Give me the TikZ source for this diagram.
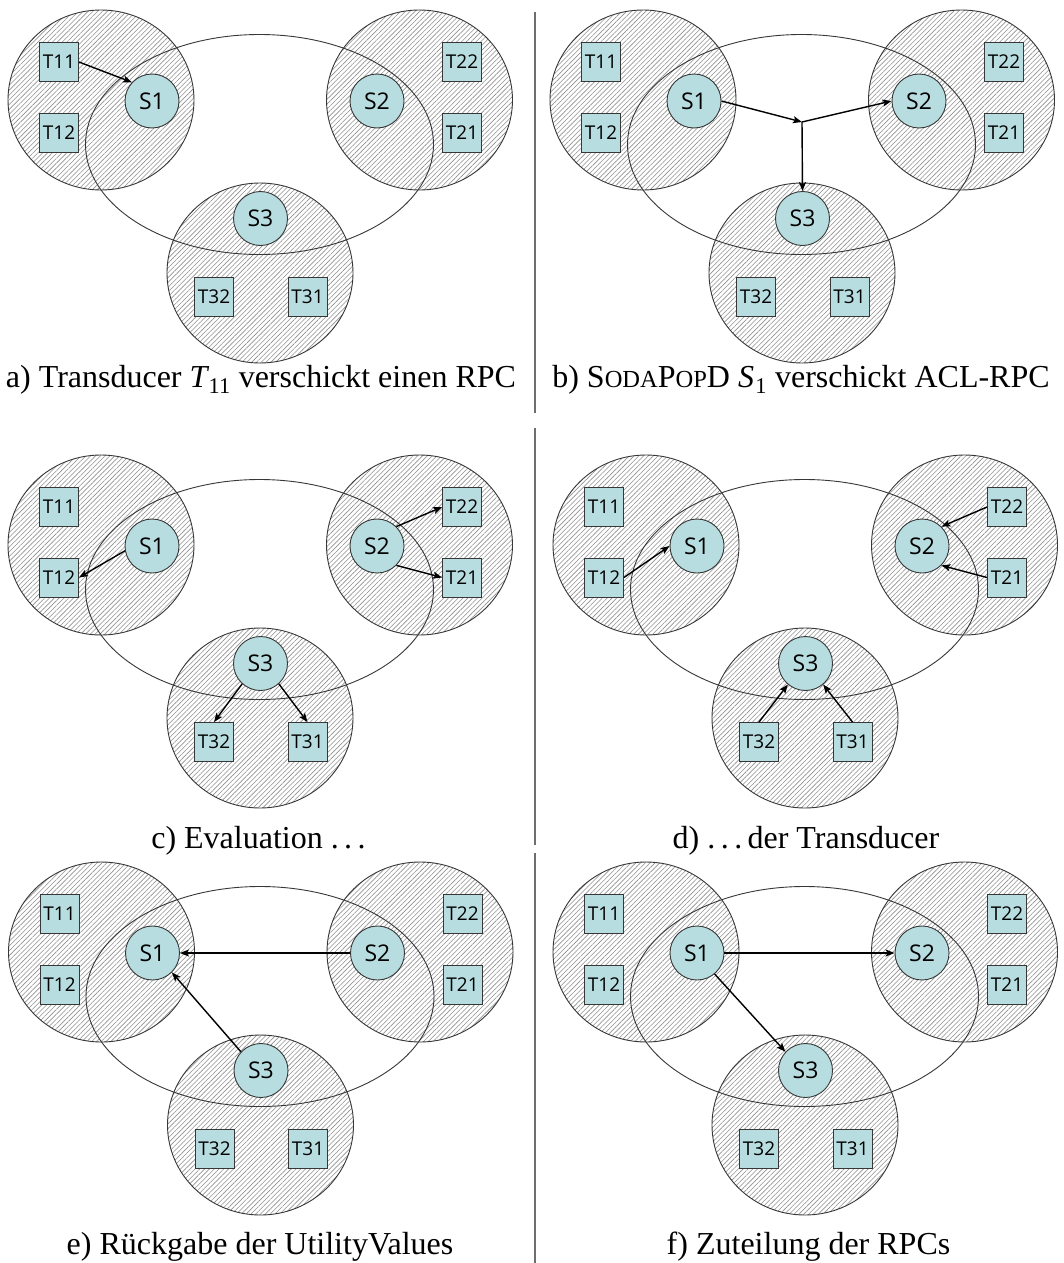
\documentclass[tikz,border=0pt]{standalone}
\usepackage{fontspec}
\setmainfont{Liberation Serif}
\newfontfamily\labelfont{Open Sans}
\usetikzlibrary{patterns.meta,arrows.meta}

\definecolor{nodefill}{RGB}{183,221,224}
\definecolor{edgegray}{RGB}{55,55,55}
\definecolor{hatchgray}{RGB}{145,145,145}
\definecolor{rulegray}{RGB}{110,110,110}

\tikzset{
  cluster/.style={draw=edgegray, line width=0.9pt,
    pattern={Lines[angle=45,distance=3.4pt,line width=0.6pt]}, pattern color=hatchgray},
  ring/.style={draw=edgegray, line width=0.9pt},
  server/.style={circle, draw=edgegray, line width=0.9pt, fill=nodefill,
    minimum size=54pt, inner sep=0pt, font=\labelfont\fontsize{23}{23}\selectfont},
  transducer/.style={rectangle, draw=edgegray, line width=0.9pt, fill=nodefill,
    minimum size=39pt, inner sep=0pt, font=\labelfont\fontsize{19}{19}\selectfont},
  msg/.style={draw=black, line width=1.4pt, -{Stealth[length=9pt,width=7pt,inset=2pt]}},
  caption/.style={font=\fontsize{32}{32}\selectfont, inner sep=0pt, anchor=base},
  divider/.style={draw=rulegray, line width=1.1pt},
}

% One panel: three hatched clusters, the ring of servers, servers S1-S3 and
% their transducers.  #1 = name prefix, (#2,#3) = centre of S1.
\newcommand\clusterpanel[3]{%
  \begin{scope}[shift={(#2,#3)}, name prefix=#1-]
    \path[cluster] (-51,-1) ellipse [x radius=93, y radius=90];
    \path[cluster] (267.5,-1) ellipse [x radius=93, y radius=90];
    \path[cluster] (108,172) ellipse [x radius=93, y radius=90];
    \path[ring] (107.5,43.5) ellipse [x radius=174, y radius=110];
    \node[server] (S1) at (0,0) {S1};
    \node[server] (S2) at (225,0) {S2};
    \node[server] (S3) at (108.5,117.5) {S3};
    \node[transducer] (T11) at (-93,-39) {T11};
    \node[transducer] (T12) at (-93,31.5) {T12};
    \node[transducer] (T22) at (310,-39) {T22};
    \node[transducer] (T21) at (310,31.5) {T21};
    \node[transducer] (T32) at (62,196) {T32};
    \node[transducer] (T31) at (155.5,196) {T31};
  \end{scope}}

\newcommand\dotsep{.\kern0.17em.\kern0.17em.}
\newcommand\indexed[2]{{\itshape #1}\kern0.04em\textsubscript{#2}}

\begin{document}
\begin{tikzpicture}[x=1pt, y=-1pt]
  \useasboundingbox (0,0) rectangle (1064,1263);
  \fill[white] (0,0) rectangle (1064,1263);

  % separators between the two columns
  \coordinate (r1a) at (535,12);   \coordinate (r1b) at (535,413);
  \coordinate (r2a) at (535,428);  \coordinate (r2b) at (535,845);
  \coordinate (r3a) at (535,853);  \coordinate (r3b) at (535,1263);
  \draw[divider] (r1a) -- (r1b);
  \draw[divider] (r2a) -- (r2b);
  \draw[divider] (r3a) -- (r3b);

  \clusterpanel{a}{152}{101}
  \clusterpanel{b}{694}{101}
  \clusterpanel{c}{152}{546}
  \clusterpanel{d}{697}{546}
  \clusterpanel{e}{152.5}{953}
  \clusterpanel{f}{697}{953}

  % a) transducer T11 sends an RPC
  \draw[msg] (a-T11.east) -- (a-S1.137);

  % b) S1 forwards the ACL-RPC to S2 and S3
  \coordinate (b-J) at (802,122);
  \draw[msg] (b-S1.east) -- (b-J);
  \draw[msg] (b-J) -- (b-S2.west);
  \draw[msg] (b-J) -- (b-S3.north);

  % c) evaluation requests to the transducers
  \draw[msg] (c-S1.190) -- (c-T12.east);
  \draw[msg] (c-S2.45) -- (c-T22.west);
  \draw[msg] (c-S2.-45) -- (c-T21.west);
  \draw[msg] (c-S3.228) -- (c-T32.north);
  \draw[msg] (c-S3.-48) -- (c-T31.north);

  % d) answers of the transducers
  \draw[msg] (d-T12.east) -- (d-S1.west);
  \draw[msg] (d-T22.west) -- (d-S2.45);
  \draw[msg] (d-T21.west) -- (d-S2.-45);
  \draw[msg] (d-T32.north) -- (d-S3.230);
  \draw[msg] (d-T31.north) -- (d-S3.-50);

  % e) utility values returned to S1
  \draw[msg] (e-S2.west) -- (e-S1.east);
  \draw[msg] (e-S3.137) -- (e-S1.-45);

  % f) allocation of the RPCs
  \draw[msg] (f-S1.east) -- (f-S2.west);
  \draw[msg] (f-S1.-50) -- (f-S3.137);

  % captions
  \node[caption] (capa) at (261,387) {a) Transducer \indexed{T}{11} verschickt einen RPC};
  \node[caption] (capb) at (801,387) {b) S{\fontsize{24.5}{24.5}\selectfont ODA}P{\fontsize{24.5}{24.5}\selectfont OP}D \indexed{S}{1} verschickt ACL-RPC};
  \node[caption] (capc) at (258.5,848) {c) Evaluation \dotsep};
  \node[caption] (capd) at (806,848) {d) \dotsep\,der Transducer};
  \node[caption] (cape) at (260,1254) {e) Rückgabe der UtilityValues};
  \node[caption] (capf) at (808.5,1254) {f) Zuteilung der RPCs};
\end{tikzpicture}
\end{document}
